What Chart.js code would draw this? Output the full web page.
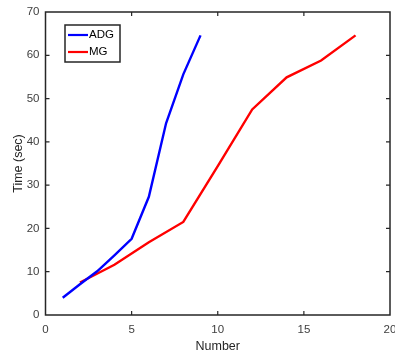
<!DOCTYPE html>
<html>
<head>
<meta charset="utf-8">
<script src="https://cdn.jsdelivr.net/npm/chart.js@4/dist/chart.umd.min.js"></script>
<style>
  html, body { margin: 0; padding: 0; background: #fff; }
  #wrap { width: 395px; height: 356px; }
</style>
</head>
<body>
<div id="wrap"><canvas id="timeChart" width="395" height="356"></canvas></div>
<script>
// data
var adgNumber = [1, 2, 3, 4, 5, 6, 7, 8, 9];
var adgTime = [4, 7.1, 10.1, 13.8, 17.6, 27.3, 44.3, 55.6, 64.6];
var mgNumber = [2, 4, 6, 8, 10, 12, 14, 16, 18];
var mgTime = [7.5, 11.6, 16.8, 21.5, 34.4, 47.5, 54.9, 58.8, 64.6];
var xTicks = [0, 5, 10, 15, 20];
var yTicks = [0, 10, 20, 30, 40, 50, 60, 70];

function toPoints(xs, ys) {
  return xs.map(function (x, i) { return { x: x, y: ys[i] }; });
}

var axisColor = '#262626';
var textColor = '#404040';

// box round the plot and short ticks pointing inwards, like matlab
var boxPlugin = {
  id: 'boxTicks',
  afterDraw: function (chart) {
    var c = chart.ctx, a = chart.chartArea;
    var xs = chart.scales.x, ys = chart.scales.y;
    c.save();
    c.strokeStyle = axisColor;
    c.lineWidth = 1.5;
    c.strokeRect(a.left, a.top, a.right - a.left, a.bottom - a.top);
    c.lineWidth = 1.2;
    c.beginPath();
    xTicks.slice(1, -1).forEach(function (v) {
      var px = xs.getPixelForValue(v);
      c.moveTo(px, a.bottom); c.lineTo(px, a.bottom - 4);
      c.moveTo(px, a.top); c.lineTo(px, a.top + 4);
    });
    yTicks.slice(1, -1).forEach(function (v) {
      var py = ys.getPixelForValue(v);
      c.moveTo(a.left, py); c.lineTo(a.left + 4, py);
      c.moveTo(a.right, py); c.lineTo(a.right - 4, py);
    });
    c.stroke();

    // legend box
    var lx = 65, ly = 25, lw = 55, lh = 37;
    c.fillStyle = '#fff';
    c.fillRect(lx, ly, lw, lh);
    c.lineWidth = 1.5;
    c.strokeRect(lx, ly, lw, lh);
    var items = [['ADG', chart.data.datasets[0].borderColor], ['MG', chart.data.datasets[1].borderColor]];
    c.font = '11.5px "Liberation Sans", Arial, sans-serif';
    c.textBaseline = 'middle';
    items.forEach(function (it, i) {
      var y = ly + 10 + i * 17;
      c.strokeStyle = it[1];
      c.lineWidth = 2.2;
      c.beginPath(); c.moveTo(lx + 3, y); c.lineTo(lx + 23, y); c.stroke();
      c.fillStyle = '#000';
      c.fillText(it[0], lx + 24, y);
    });
    c.restore();
  }
};

var ctx = document.getElementById('timeChart');
var myChart = new Chart(ctx, {
  type: 'line',
  data: {
    datasets: [
      { label: 'ADG', data: toPoints(adgNumber, adgTime), borderColor: '#0000ff', borderWidth: 2.4, pointRadius: 0, fill: false, tension: 0 },
      { label: 'MG', data: toPoints(mgNumber, mgTime), borderColor: '#ff0000', borderWidth: 2.4, pointRadius: 0, fill: false, tension: 0 }
    ]
  },
  options: {
    responsive: false,
    animation: false,
    layout: { padding: { top: 12, right: 5, left: 0, bottom: 0 } },
    plugins: { legend: { display: false }, tooltip: { enabled: false } },
    scales: {
      x: {
        type: 'linear', min: 0, max: 20,
        afterBuildTicks: function (s) { s.ticks = xTicks.map(function (v) { return { value: v }; }); },
        afterFit: function (s) { s.height = 41; s.paddingLeft = 0; s.paddingRight = 0; },
        grid: { display: false, drawTicks: false },
        border: { display: false },
        ticks: { padding: 8, color: textColor, font: { family: '"Liberation Sans", Arial', size: 11.5 } },
        title: { display: true, text: 'Number', color: '#262626', padding: { top: 0, bottom: 2 }, font: { family: '"Liberation Sans", Arial', size: 12.5 } }
      },
      y: {
        type: 'linear', min: 0, max: 70,
        afterBuildTicks: function (s) { s.ticks = yTicks.map(function (v) { return { value: v }; }); },
        afterFit: function (s) { s.width = 45.5; s.paddingTop = 0; s.paddingBottom = 0; },
        grid: { display: false, drawTicks: false },
        border: { display: false },
        ticks: { padding: 6, color: textColor, font: { family: '"Liberation Sans", Arial', size: 11.5 } },
        title: { display: true, text: 'Time (sec)', color: '#262626', padding: { top: 11, bottom: 0 }, font: { family: '"Liberation Sans", Arial', size: 12.5 } }
      }
    }
  },
  plugins: [boxPlugin]
});
</script>
</body>
</html>
